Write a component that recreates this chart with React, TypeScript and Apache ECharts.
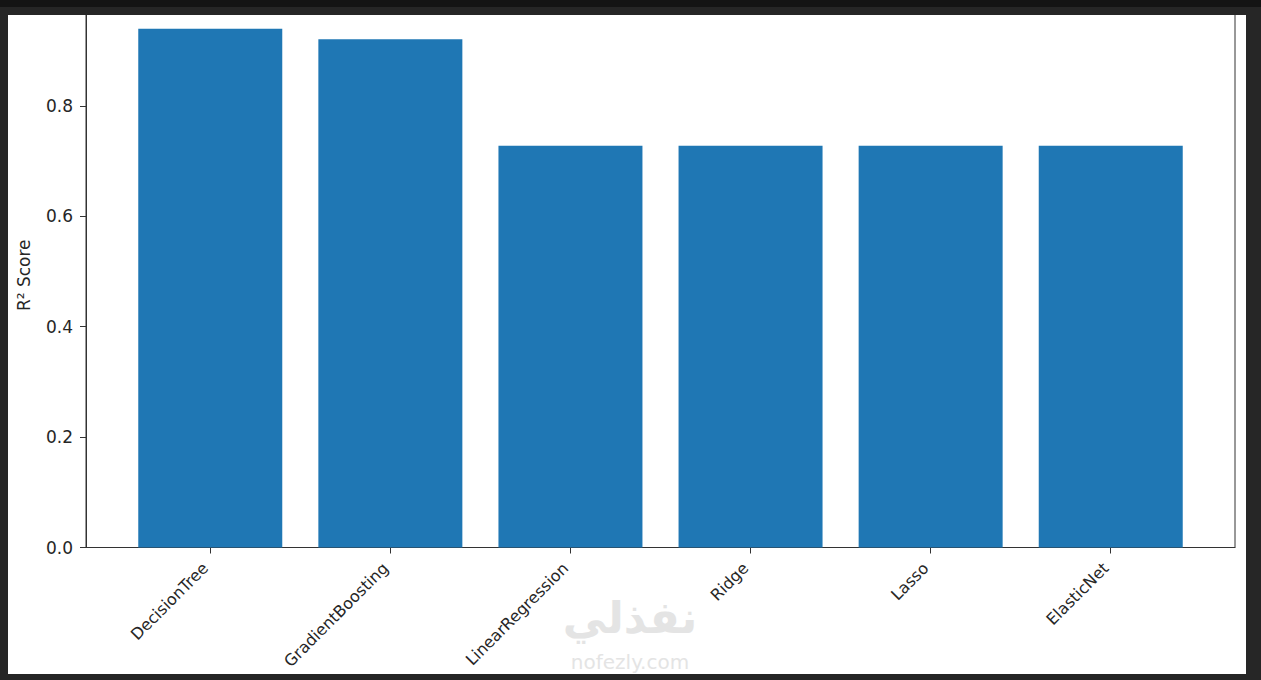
import { useRef, useEffect } from "react";
import * as echarts from "echarts";
import type { EChartsOption } from "echarts";

const models = ["DecisionTree", "GradientBoosting", "LinearRegression", "Ridge", "Lasso", "ElasticNet"];
const r2Scores = [0.94, 0.921, 0.728, 0.728, 0.728, 0.728];
const yTicks = [0, 0.2, 0.4, 0.6, 0.8];
const xTicks = models.map((_, i) => i);

const FONT = "DejaVu Sans";
const BLUE = "#1f77b4";
const INK = "#262626";
const FRAME = "#262626";

export default function App() {
  const chartRef = useRef<HTMLDivElement>(null);

  useEffect(() => {
    if (!chartRef.current) return;
    const chart = echarts.init(chartRef.current, undefined, { renderer: "svg" });

    const option: EChartsOption = {
      animation: false,
      backgroundColor: "#ffffff",
      textStyle: { fontFamily: FONT },
      grid: {
        left: 78,
        right: 11,
        top: 3,
        bottom: 126.5,
        outerBoundsMode: "none",
        show: true,
        borderColor: "#333",
        borderWidth: 1,
        backgroundColor: "transparent",
      } as any,
      xAxis: {
        type: "value",
        min: -0.69,
        max: 5.69,
        splitLine: { show: false },
        axisLine: { show: true, onZero: false, lineStyle: { color: "#333", width: 1 } },
        axisTick: { show: true, customValues: xTicks, length: 6, lineStyle: { color: "#333" } },
        axisLabel: {
          customValues: xTicks,
          rotate: 45,
          margin: 13,
          padding: [0, 7, 0, 0],
          fontSize: 16,
          color: INK,
          fontFamily: FONT,
          formatter: (v: number) => models[Math.round(v)] ?? "",
        },
      },
      yAxis: {
        type: "value",
        min: 0,
        max: 0.9865,
        name: "R² Score",
        nameLocation: "middle",
        nameGap: 54,
        nameTextStyle: { fontSize: 17, color: INK, fontFamily: FONT },
        splitLine: { show: false },
        axisLine: { show: true, onZero: false, lineStyle: { color: "#333", width: 1 } },
        axisTick: { show: true, customValues: yTicks, length: 6, lineStyle: { color: "#333" } },
        axisLabel: {
          customValues: yTicks,
          margin: 13,
          fontSize: 17,
          color: INK,
          fontFamily: FONT,
          formatter: (v: number) => v.toFixed(1),
        },
      },
      series: [
        {
          type: "bar",
          data: r2Scores.map((v, i) => [i, v]),
          barWidth: 144,
          itemStyle: { color: BLUE },
        },
      ],
      graphic: [
        {
          type: "text",
          x: 622,
          y: 617,
          z: 0,
          style: {
            text: "نفذلي",
            fill: "#e4e4e4",
            font: `bold 44px ${FONT}`,
            align: "center",
            verticalAlign: "middle",
          },
        },
        {
          type: "text",
          x: 622,
          y: 662,
          z: 0,
          style: {
            text: "nofezly.com",
            fill: "#e4e4e4",
            font: `20px ${FONT}`,
            align: "center",
            verticalAlign: "middle",
          },
        },
      ],
    };

    chart.setOption(option);
    return () => chart.dispose();
  }, []);

  return (
    <div style={{ position: "fixed", inset: 0, width: 1261, height: 680, background: FRAME }}>
      <div
        ref={chartRef}
        style={{ position: "absolute", left: 8, top: 0, width: 1238, height: 674 }}
      />
      <div style={{ position: "absolute", left: 0, top: 0, width: 1261, height: 15, background: FRAME }} />
      <div style={{ position: "absolute", left: 0, top: 0, width: 1261, height: 7, background: "#141414" }} />
    </div>
  );
}
